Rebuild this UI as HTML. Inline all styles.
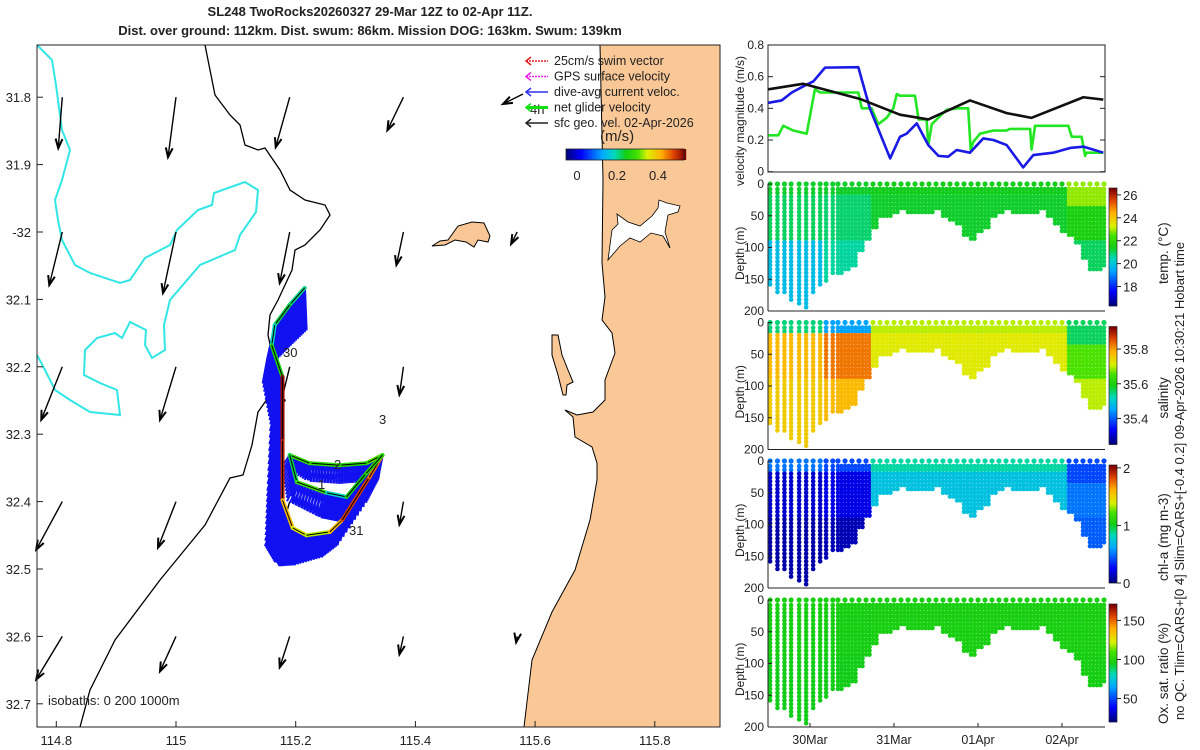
<!DOCTYPE html>
<html><head><meta charset="utf-8"><style>
html,body{margin:0;padding:0;background:#fff;width:1200px;height:750px;overflow:hidden}
svg text{font-family:"Liberation Sans","DejaVu Sans",sans-serif;fill:#222}
</style></head><body>
<svg id="fig" width="1200" height="750" viewBox="0 0 1200 750" xmlns="http://www.w3.org/2000/svg">
<text x="370" y="16" text-anchor="middle" font-size="13" font-weight="bold">SL248 TwoRocks20260327 29-Mar 12Z to 02-Apr 11Z.</text>
<text x="370" y="35" text-anchor="middle" font-size="13" font-weight="bold">Dist. over ground: 112km. Dist. swum: 86km. Mission DOG: 163km. Swum: 139km</text>
<g id="map"></g>
<g id="right"></g>
<text transform="translate(1184,720) rotate(-90)" font-size="13">no QC. Tlim=CARS+[0 4] Slim=CARS+[-0.4 0.2] 09-Apr-2026 10:30:21 Hobart time</text>
</svg>
<script>
// ---------- map data ----------
const geoLon=[114.81,115.0,115.19,115.38,114.81,115.0,115.19,115.38,115.57,114.81,115.0,115.19,115.38,114.81,115.0,115.19,115.38,114.81,115.0,115.19,115.38,115.57];
const geoLat=[-31.8,-31.8,-31.8,-31.8,-32.0,-32.0,-32.0,-32.0,-32.0,-32.2,-32.2,-32.2,-32.2,-32.4,-32.4,-32.4,-32.4,-32.6,-32.6,-32.6,-32.6,-32.6];
const geoU=[-0.02,-0.04,-0.07,-0.08,-0.065,-0.065,-0.05,-0.035,-0.03,-0.105,-0.08,-0.05,-0.02,-0.13,-0.09,-0.04,-0.02,-0.13,-0.08,-0.05,-0.02,-0.005];
const geoV=[-0.255,-0.30,-0.25,-0.165,-0.265,-0.305,-0.255,-0.165,-0.06,-0.265,-0.265,-0.205,-0.14,-0.24,-0.23,-0.14,-0.115,-0.215,-0.175,-0.155,-0.09,-0.03];
const trackLon=[115.215,115.19,115.165,115.16,115.178,115.178,115.178,115.195,115.218,115.257,115.278,115.323,115.345,115.318,115.273,115.223,115.19,115.202,115.252,115.285,115.318,115.345];
const trackLat=[-32.083,-32.108,-32.138,-32.168,-32.215,-32.31,-32.398,-32.439,-32.45,-32.445,-32.427,-32.364,-32.331,-32.343,-32.346,-32.343,-32.331,-32.371,-32.387,-32.393,-32.358,-32.331];
const trackSpeed=[0.2,0.22,0.18,0.25,0.52,0.5,0.4,0.35,0.33,0.4,0.48,0.45,0.3,0.26,0.27,0.28,0.22,0.28,0.18,0.24,0.26,0.28];
const curU=[0.02,-0.01,-0.02,-0.04,-0.08,-0.12,-0.15,-0.16,-0.14,-0.1,-0.06,-0.04,-0.06,-0.02,0.0,0.02,-0.02,-0.05,-0.06,-0.05,-0.05,-0.03];
const curV=[-0.5,-0.5,-0.45,-0.5,-0.62,-0.65,-0.6,-0.45,-0.35,-0.3,-0.3,-0.3,-0.3,-0.22,-0.22,-0.22,-0.15,-0.25,-0.3,-0.3,-0.3,-0.25];
const lonTicks=[114.8,115,115.2,115.4,115.6,115.8];
const latTicks=[-31.8,-31.9,-32,-32.1,-32.2,-32.3,-32.4,-32.5,-32.6,-32.7];
const latTickLabels=["31.8","31.9","-32","32.1","32.2","32.3","32.4","32.5","32.6","32.7"];

// ---------- time series data (hours since 29-Mar 12Z) ----------
const blueT=[0.1,3.9,6.8,11.05,12.95,16.3,25.8,29.1,34.9,37.7,39.6,42.5,45.8,48.7,51.5,53.9,57.7,61.5,64.4,68.2,72.9,75.8,81.5,86.3,90.1,95.8];
const blueV=[0.435,0.45,0.5,0.55,0.57,0.657,0.66,0.4,0.084,0.22,0.24,0.305,0.168,0.1,0.095,0.137,0.12,0.21,0.2,0.168,0.027,0.105,0.12,0.15,0.158,0.12];
const blackT=[0.1,10,17.6,26.2,37.7,45.8,57.7,68.2,75.3,90.1,95.8];
const blackV=[0.52,0.555,0.51,0.46,0.36,0.33,0.45,0.37,0.34,0.47,0.455];
const greenT=[0.1,2.95,4.38,7.2,11.05,13.4,14.9,25.8,26.8,29.6,31.5,33.9,35.8,36.8,37.7,42,43,45.3,45.8,46.8,49.1,51,53.9,57.2,57.9,58.7,60.6,64.4,68.2,69.1,74.9,75.3,76.3,85.8,86.8,89.6,90.6,91,95.8];
const greenV=[0.23,0.23,0.29,0.26,0.24,0.52,0.5,0.5,0.4,0.4,0.3,0.34,0.4,0.49,0.48,0.48,0.33,0.33,0.17,0.3,0.35,0.39,0.4,0.4,0.14,0.19,0.24,0.26,0.26,0.27,0.27,0.14,0.29,0.29,0.22,0.22,0.1,0.12,0.12];
const profileHour=[0.6,2.7,4.7,6.6,8.9,10.9,12.9,14.9,16.6,18.5,20,22,24,26,28,30,32,34,36,38,40,42,44,46,48,50,52,54,56,58,60,62,64,66,68,70,72,74,76,78,80,82,84,86,88,90,92,94,96];
const profileDepth=[160,170,172,185,190,197,172,158,152,145,143,137,128,105,88,70,55,50,45,40,45,47,45,45,43,52,58,65,82,88,78,68,52,45,42,48,48,45,45,42,52,65,75,80,95,120,138,135,130];
const periodStart=[0,16,30,86];
const tempSurf=[21.3,21.3,21.4,22.9], tempMid=[21.0,20.9,21.3,21.6], tempDeep=[19.8,20.6,21.0,21.0];
const salSurf=[35.55,35.45,35.7,35.56], salMid=[35.78,35.83,35.72,35.66], salDeep=[35.76,35.78,35.72,35.7];
const chlSurf=[0.5,0.4,0.85,0.4], chlMid=[0.15,0.2,0.72,0.5], chlDeep=[0.08,0.1,0.62,0.45];
const oxySurf=[97,97,97,97], oxyMid=[96,96,97,97], oxyDeep=[95,95,96,96];
const dayTicks=[12,36,60,84];
const dayLabels=["30Mar","31Mar","01Apr","02Apr"];
const depthTicks=[0,50,100,150,200];
const velTicks=[0,0.2,0.4,0.6,0.8];

const NS="http://www.w3.org/2000/svg";
function mk(tag,attrs,parent){const e=document.createElementNS(NS,tag);for(const k in attrs)e.setAttribute(k,attrs[k]);parent.appendChild(e);return e;}
function jet(t){t=Math.max(0,Math.min(1,t));
 const s=[[0,0,0,128],[0.12,0,0,255],[0.3,0,170,255],[0.4,0,215,190],[0.5,20,205,20],[0.6,70,225,0],[0.68,220,240,0],[0.8,255,175,0],[0.9,225,70,0],[1,128,0,0]];
 for(let i=1;i<s.length;i++){if(t<=s[i][0]){const a=s[i-1],b=s[i],f=(t-a[0])/(b[0]-a[0]);return `rgb(${Math.round(a[1]+f*(b[1]-a[1]))},${Math.round(a[2]+f*(b[2]-a[2]))},${Math.round(a[3]+f*(b[3]-a[3]))})`;}}return "rgb(128,0,0)";}

// ---------- map ----------
const map=document.getElementById('map');
const mx=lon=>176+(lon-115)*598.5, my=lat=>232+(-32-lat)*674;
mk('rect',{x:37,y:45,width:683,height:682,fill:'#fff'},map);
const land=mk('path',{d:'M600,45 L603,180 L602,263 L605,297 L602,320 L612,333 L615,353 L605,380 L605,400 L593,412 L577,415 L565,410 L573,417 L575,437 L592,447 L597,463 L597,480 L590,520 L575,570 L552,612 L532,660 L524,727 L720,727 L720,45 Z',fill:'#fac896',stroke:'#000','stroke-width':1},map);

mk('path',{d:'M612,230 L618,224 L617,214 L628,222 L640,226 L652,216 L658,208 L659,200 L667,203 L680,206 L678,212 L668,215 L665,232 L670,248 L663,236 L651,233 L640,242 L630,238 L620,246 L608,260 Z',fill:'#fff',stroke:'#000','stroke-width':0.8},map);
const isl=mk('path',{d:'M432,246 L440,241 L448,240 L458,226 L472,222 L484,223 L490,236 L488,242 L478,240 L474,247 L466,242 L455,240 L445,245 Z',fill:'#fac896',stroke:'#000','stroke-width':1},map);

mk('path',{d:'M552,335 L558,335 L562,355 L568,370 L573,382 L567,385 L566,395 L563,395 L558,375 L552,355 Z',fill:'#fac896',stroke:'#000','stroke-width':1},map);
const iso1=mk('path',{d:'M37,45 L52,60 L56,85 L62,130 L70,150 L62,180 L55,200 L58,220 L62,240 L75,265 L90,273 L120,283 L130,280 L145,258 L170,245 L177,230 L198,210 L212,205 L214,193 L245,182 L258,190 L256,212 L240,235 L235,250 L200,265 L170,300 L164,325 L165,350 L152,358 L145,345 L146,330 L130,322 L122,338 L115,333 L97,338 L85,350 L84,375 L100,383 L117,390 L120,415 L90,412 L70,400 L55,390 L45,370 L37,355',fill:'none',stroke:'#33e6e6','stroke-width':2},map);

const iso2=mk('path',{d:'M205,45 L210,70 L215,95 L230,115 L240,125 L245,145 L258,150 L265,148 L280,170 L290,190 L305,200 L325,205 L330,215 L320,230 L305,245 L295,250 L292,270 L285,285 L278,300 L270,315 L268,335 L275,368 L270,395 L258,412 L252,445 L243,475 L230,478 L205,525 L160,580 L115,640 L90,690 L80,727',fill:'none',stroke:'#000','stroke-width':1.3},map);

function arrow(x1,y1,x2,y2,col,w,parent,name){const g=mk('g',{},parent);
 mk('line',{x1,y1,x2,y2,stroke:col,'stroke-width':w},g);const a=Math.atan2(y2-y1,x2-x1),L=10;
 mk('polyline',{points:`${x2-L*Math.cos(a-0.35)},${y2-L*Math.sin(a-0.35)} ${x2},${y2} ${x2-L*Math.cos(a+0.35)},${y2-L*Math.sin(a+0.35)}`,fill:'none',stroke:col,'stroke-width':w+0.6},g);}
const gs=200;
for(let i=0;i<geoLon.length;i++){const x=mx(geoLon[i]),y=my(geoLat[i]);arrow(x,y,x+geoU[i]*gs,y-geoV[i]*gs,'#000',1.4,map,'geo-velocity-arrow');}
const cs=85;const vg=mk('g',{},map);
for(let i=0;i<trackLon.length-1;i++){for(let k=0;k<10;k++){const f=k/10;const lon=trackLon[i]+f*(trackLon[i+1]-trackLon[i]),lat=trackLat[i]+f*(trackLat[i+1]-trackLat[i]);
 const u=curU[i]+f*(curU[i+1]-curU[i]),v=curV[i]+f*(curV[i+1]-curV[i]);const x=mx(lon),y=my(lat);
 mk('line',{x1:x,y1:y,x2:x+u*cs,y2:y-v*cs,stroke:'#1010f0','stroke-width':2.6},vg);
 mk('line',{x1:x,y1:y,x2:x+(u-0.08)*cs*0.9,y2:y-v*cs*0.9,stroke:'#1010f0','stroke-width':2},vg);}}
const tg=mk('g',{},map);
for(let i=0;i<trackLon.length-1;i++){mk('line',{x1:mx(trackLon[i]),y1:my(trackLat[i]),x2:mx(trackLon[i+1]),y2:my(trackLat[i+1]),stroke:jet((trackSpeed[i]+0.054)/0.584),'stroke-width':4,'stroke-linecap':'round'},tg);
 mk('line',{x1:mx(trackLon[i]),y1:my(trackLat[i]),x2:mx(trackLon[i+1]),y2:my(trackLat[i+1]),stroke:'#000','stroke-width':1},tg);}
[["30",283,357],["3",379,424],["2",334,469],["1",318,489],["31",349,535],["4h",530,114]].forEach(l=>{const t=mk('text',{x:l[1],y:l[2],'font-size':13},map);t.textContent=l[0];});
mk('rect',{x:37,y:45,width:683,height:682,fill:'none',stroke:'#222','stroke-width':1},map);
lonTicks.forEach(v=>{const x=mx(v);mk('line',{x1:x,y1:727,x2:x,y2:721,stroke:'#222'},map);const t=mk('text',{x:x,y:745,'font-size':13,'text-anchor':'middle'},map);t.textContent=String(v);});
latTicks.forEach((v,i)=>{const y=my(v);mk('line',{x1:37,y1:y,x2:43,y2:y,stroke:'#222'},map);const t=mk('text',{x:31,y:y+5,'font-size':13,'text-anchor':'end'},map);t.textContent=latTickLabels[i];});
const isoT=mk('text',{x:48,y:705,'font-size':13},map);isoT.textContent='isobaths: 0   200  1000m';isoT.setAttribute('xml:space','preserve');
const leg=[['#e02020','25cm/s swim vector'],['#f020f0','GPS surface velocity'],['#3030f0','dive-avg current veloc.'],['#10e010','net glider velocity'],['#222','sfc geo. vel. 02-Apr-2026']];
leg.forEach((l,i)=>{const y=65+i*15.5;const g=mk('g',{},map);
 mk('line',{x1:526,y1:y-4,x2:548,y2:y-4,stroke:l[0],'stroke-width':i==3?3:1.5,'stroke-dasharray':i<2?'2,1':''},g);mk('polyline',{points:`531,${y-8} 526,${y-4} 531,${y}`,fill:'none',stroke:l[0],'stroke-width':1.5},g);
 const t=mk('text',{x:554,y:y,'font-size':12.5},g);t.textContent=l[1];});
arrow(523,94,503,104,'#000',1.4,map,'legend-scale-arrow');
const cbt=mk('text',{x:600,y:141,'font-size':15},map);cbt.textContent='(m/s)';
for(let i=0;i<60;i++){mk('rect',{x:566+i*2,y:149,width:2.2,height:11,fill:jet(i/59)},map);}
mk('rect',{x:566,y:149,width:118,height:11,fill:'none',stroke:'#222','stroke-width':0.8},map);
[[0,577],[0.2,617],[0.4,658]].forEach(p=>{const t=mk('text',{x:p[1],y:180,'font-size':13,'text-anchor':'middle'},map);t.textContent=String(p[0]);});

// ---------- right panels ----------
const R=document.getElementById('right');
const X0=768,X1=1105,pxh=3.5;const tx=h=>X0+h*pxh;
const vy=v=>171.7-v*158.4;
mk('rect',{x:X0,y:45,width:X1-X0,height:127,fill:'#fff',stroke:'#222'},R);
velTicks.forEach(v=>{mk('line',{x1:X0,y1:vy(v),x2:X0+5,y2:vy(v),stroke:'#222'},R);mk('line',{x1:X1,y1:vy(v),x2:X1-5,y2:vy(v),stroke:'#222'},R);const t=mk('text',{x:X0-4,y:vy(v)+4,'font-size':12,'text-anchor':'end'},R);t.textContent=String(v);});
const vl=mk('text',{transform:'translate(744,186) rotate(-90)','font-size':12},R);vl.textContent='velocity magnitude (m/s)';
function series(T,V,col,name){const p=mk('polyline',{points:T.map((t,i)=>tx(t)+','+vy(V[i])).join(' '),fill:'none',stroke:col,'stroke-width':2.6,'stroke-linejoin':'round'},R);}
series(greenT,greenV,'#22e622','net-glider-velocity-line');
series(blueT,blueV,'#1a1ae6','dive-avg-current-line');
series(blackT,blackV,'#111','geo-velocity-line');

function period(h){let p=0;for(let i=0;i<periodStart.length;i++)if(h>=periodStart[i])p=i;return p;}
function val(h,d,S,M,D){const p=period(h);if(d<(p==3?35:20))return S[p];if(d<90)return M[p];return D[p];}
const panels=[
 {top:184,S:tempSurf,M:tempMid,D:tempDeep,lo:16.3,hi:26.6,ticks:[18,20,22,24,26],title:'temp. (°C)',name:'temperature',ty:100},
 {top:322.5,S:salSurf,M:salMid,D:salDeep,lo:35.25,hi:35.93,ticks:[35.4,35.6,35.8],title:'salinity',name:'salinity',ty:96},
 {top:461,S:chlSurf,M:chlMid,D:chlDeep,lo:0,hi:2.05,ticks:[0,1,2],title:'chl-a (mg m-3)',name:'chlorophyll',ty:120},
 {top:600,S:oxySurf,M:oxyMid,D:oxyDeep,lo:20,hi:171,ticks:[50,100,150],title:'Ox. sat. ratio (%)',name:'oxygen',ty:124}];
panels.forEach(P=>{const g=mk('g',{},R);
 const dy=d=>P.top+d*0.635;const H=127;
 mk('rect',{x:X0,y:P.top,width:X1-X0,height:H,fill:'#fff'},g);
 const dots=mk('g',{},g);
 profileHour.forEach((h,i)=>{const cols=i>=10?[h,h+1]:[h];cols.forEach(hc=>{if(hc>96.2)return;const x=tx(hc);
   for(let d=8;d<=profileDepth[i];d+=6){const v=val(h,d,P.S,P.M,P.D);mk('circle',{cx:x,cy:dy(d),r:2.3,fill:jet((v-P.lo)/(P.hi-P.lo))},dots);} });
   const sv=P.S[period(h)];mk('circle',{cx:tx(h),cy:dy(0),r:2.6,fill:jet((sv-P.lo)/(P.hi-P.lo))},dots);});
 mk('line',{x1:X0,y1:P.top+H,x2:X1,y2:P.top+H,stroke:'#222'},g);mk('line',{x1:X0,y1:P.top,x2:X0,y2:P.top+H,stroke:'#222'},g);
 depthTicks.forEach(d=>{mk('line',{x1:X0,y1:dy(d),x2:X0+4,y2:dy(d),stroke:'#222'},g);const t=mk('text',{x:X0-4,y:dy(d)+4,'font-size':12,'text-anchor':'end'},g);t.textContent=String(d);});
 const dl=mk('text',{transform:`translate(744,${P.top+96}) rotate(-90)`,'font-size':12},g);dl.textContent='Depth (m)';
 const cy0=P.top+4,cy1=P.top+122;for(let k=0;k<59;k++){mk('rect',{x:1109,y:cy1-(k+1)*2,width:8,height:2.2,fill:jet(k/58)},g);}
 mk('rect',{x:1109,y:cy0,width:8,height:cy1-cy0,fill:'none',stroke:'#222','stroke-width':0.7},g);
 P.ticks.forEach(v=>{const y=cy1-(v-P.lo)/(P.hi-P.lo)*(cy1-cy0);mk('line',{x1:1117,y1:y,x2:1121,y2:y,stroke:'#222'},g);const t=mk('text',{x:1123,y:y+5,'font-size':13},g);t.textContent=String(v);});
 const ct=mk('text',{transform:`translate(1168,${P.top+P.ty}) rotate(-90)`,'font-size':13.5},g);ct.textContent=P.title;
});
dayTicks.forEach((h,i)=>{mk('line',{x1:tx(h),y1:727,x2:tx(h),y2:723,stroke:'#222'},R);const t=mk('text',{x:tx(h),y:744,'font-size':12.5,'text-anchor':'middle'},R);t.textContent=dayLabels[i];});
</script>
</body></html>
